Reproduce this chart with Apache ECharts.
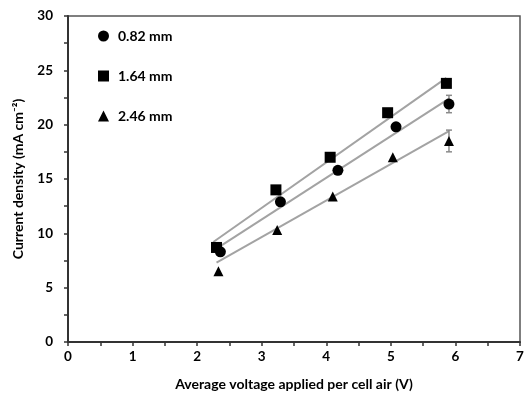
<!DOCTYPE html>
<html><head><meta charset="utf-8">
<script src="https://cdn.jsdelivr.net/npm/echarts@6/dist/echarts.min.js"></script>
<style>html,body{margin:0;padding:0;background:#fff}#c{width:527px;height:396px}</style>
</head><body><div id="c"></div>
<script>
// Data
const seriesNames = ['0.82 mm', '1.64 mm', '2.46 mm'];
const x082 = [2.36, 3.29, 4.18, 5.08, 5.90];
const y082 = [8.3, 12.9, 15.8, 19.8, 21.9];
const err082 = [0, 0, 0, 0, 0.8];
const x164 = [2.30, 3.22, 4.06, 4.95, 5.86];
const y164 = [8.7, 14.0, 17.0, 21.1, 23.8];
const err164 = [0, 0, 0, 0, 0];
const x246 = [2.33, 3.24, 4.10, 5.03, 5.90];
const y246 = [6.5, 10.3, 13.4, 17.0, 18.5];
const err246 = [0, 0, 0, 0, 1.0];
// fitted trend line endpoints
const fit082X = [2.30, 5.90], fit082Y = [8.6, 22.4];
const fit164X = [2.25, 5.86], fit164Y = [9.2, 24.3];
const fit246X = [2.30, 5.90], fit246Y = [7.3, 19.4];
const xTicks = [0, 1, 2, 3, 4, 5, 6, 7];
const yTicks = [0, 5, 10, 15, 20, 25, 30];

const FONT = 'Lato';
const zip = (a, b) => a.map((v, i) => [v, b[i]]);
const errData = (xs, ys, es) => xs.map((v, i) => [v, ys[i] - es[i], ys[i] + es[i]]).filter((d, i) => es[i] > 0);

function errRender(params, api) {
  const x = api.value(0), lo = api.value(1), hi = api.value(2);
  const p1 = api.coord([x, lo]), p2 = api.coord([x, hi]);
  const w = 3;
  const st = { stroke: '#8a8a8a', lineWidth: 1.5 };
  return { type: 'group', children: [
    { type: 'line', shape: { x1: p1[0], y1: p1[1], x2: p2[0], y2: p2[1] }, style: st },
    { type: 'line', shape: { x1: p1[0] - w, y1: p1[1], x2: p1[0] + w, y2: p1[1] }, style: st },
    { type: 'line', shape: { x1: p2[0] - w, y1: p2[1], x2: p2[0] + w, y2: p2[1] }, style: st }
  ]};
}

const fitStyle = { color: '#a3a3a3', width: 2 };
const txt = { fontFamily: FONT, fontWeight: 'bold', color: '#000' };
const chart = echarts.init(document.getElementById('c'));
chart.setOption({
  animation: false,
  textStyle: { fontFamily: FONT },
  grid: { left: 68, right: 7, top: 16, bottom: 54, show: true, borderColor: '#555', borderWidth: 1.5, backgroundColor: 'transparent' },
  legend: {
    data: seriesNames, orient: 'vertical', left: 93, top: 24, itemGap: 26,
    itemWidth: 11, itemHeight: 11,
    textStyle: Object.assign({ fontSize: 14, padding: [0, 0, 0, 4] }, txt)
  },
  xAxis: {
    type: 'value', min: 0, max: 7, interval: 0.5,
    name: 'Average voltage applied per cell air (V)', nameLocation: 'middle', nameGap: 35,
    nameTextStyle: Object.assign({ fontSize: 14 }, txt),
    axisLine: { lineStyle: { color: '#333', width: 2 } },
    axisTick: { show: true, inside: false, length: 4, lineStyle: { color: '#333', width: 1.5 } },
    axisLabel: Object.assign({ margin: 8, fontSize: 13.5,
      formatter: v => xTicks.includes(v) ? String(v) : '' }, txt),
    splitLine: { show: false }
  },
  yAxis: {
    type: 'value', min: 0, max: 30, interval: 2.5,
    name: 'Current density (mA cm⁻²)', nameLocation: 'middle', nameGap: 43,
    nameTextStyle: Object.assign({ fontSize: 14 }, txt),
    axisLine: { show: true, lineStyle: { color: '#333', width: 2 } },
    axisTick: { show: true, inside: false, length: 4, lineStyle: { color: '#333', width: 1.5 } },
    axisLabel: Object.assign({ margin: 15, fontSize: 13.5,
      formatter: v => yTicks.includes(v) ? String(v) : '' }, txt),
    splitLine: { show: false }
  },
  series: [
    { type: 'line', data: zip(fit082X, fit082Y), showSymbol: false, symbol: 'none', lineStyle: fitStyle, silent: true, z: 1 },
    { type: 'line', data: zip(fit164X, fit164Y), showSymbol: false, symbol: 'none', lineStyle: fitStyle, silent: true, z: 1 },
    { type: 'line', data: zip(fit246X, fit246Y), showSymbol: false, symbol: 'none', lineStyle: fitStyle, silent: true, z: 1 },
    { type: 'custom', renderItem: errRender, data: errData(x082, y082, err082), z: 2 },
    { type: 'custom', renderItem: errRender, data: errData(x164, y164, err164), z: 2 },
    { type: 'custom', renderItem: errRender, data: errData(x246, y246, err246), z: 2 },
    { name: seriesNames[0], type: 'scatter', symbol: 'circle', symbolSize: 11, data: zip(x082, y082), itemStyle: { color: '#000', opacity: 1 }, z: 3 },
    { name: seriesNames[1], type: 'scatter', symbol: 'rect', symbolSize: 11, data: zip(x164, y164), itemStyle: { color: '#000', opacity: 1 }, z: 3 },
    { name: seriesNames[2], type: 'scatter', symbol: 'triangle', symbolSize: 10, data: zip(x246, y246), itemStyle: { color: '#000', opacity: 1 }, z: 3 }
  ]
});
</script></body></html>
